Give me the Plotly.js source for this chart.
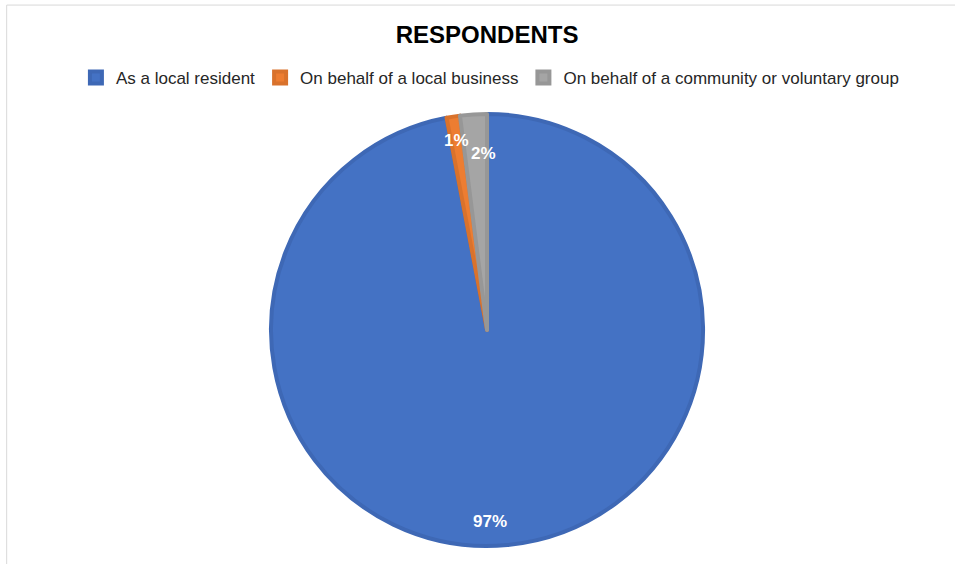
<!DOCTYPE html>
<html>
<head>
<meta charset="utf-8">
<script src="https://cdn.plot.ly/plotly-3.0.1.min.js"></script>
<style>
html,body{margin:0;padding:0;background:#fff;}
#chart{width:955px;height:564px;}
</style>
</head>
<body>
<div id="chart"></div>
<script>
const categories = ["As a local resident", "On behalf of a local business", "On behalf of a community or voluntary group"];
const values = [97, 1, 2];
const colors = ["#4472C4", "#ED7D31", "#A5A5A5"];
const edgeColors = ["#3E68B5", "#D9722C", "#979797"];

const FONT = "Liberation Sans, Arial, sans-serif";
const dom = {x: [0.283, 0.737], y: [0.032, 0.798]};
const W = 955, H = 564;

const trace = {
  type: "pie",
  labels: categories,
  values: values,
  sort: false,
  direction: "clockwise",
  rotation: 0,
  marker: {colors: colors, line: {color: edgeColors, width: 4}},
  textinfo: "none",
  hoverinfo: "label+percent",
  domain: dom
};

// data labels placed along each slice's mid-angle (computed from values)
const total = values.reduce((a, b) => a + b, 0);
const cx = (dom.x[0] + dom.x[1]) / 2 * W;
const cy = (dom.y[0] + dom.y[1]) / 2 * H;
const R = Math.min((dom.x[1] - dom.x[0]) * W, (dom.y[1] - dom.y[0]) * H) / 2;
const labelRadius = [0.89, 0.89, 0.82];
const labelShift = [-15, 0, 8];
let cum = 0;
const annotations = values.map((v, i) => {
  const mid = (cum + v / 2) / total * 2 * Math.PI;
  cum += v;
  const r = R * labelRadius[i];
  const px = cx + r * Math.sin(mid) + labelShift[i];
  const py = cy + r * Math.cos(mid);
  return {
    xref: "paper", yref: "paper", x: px / W, y: py / H,
    xanchor: "center", yanchor: "middle", showarrow: false,
    text: "<b>" + Math.round(v / total * 100) + "%</b>",
    font: {family: FONT, size: 17, color: "#ffffff"}
  };
});

const layout = {
  width: W,
  height: H,
  margin: {l: 0, r: 0, t: 0, b: 0},
  paper_bgcolor: "#ffffff",
  title: {
    text: "<b>RESPONDENTS</b>",
    font: {family: FONT, size: 24, color: "#000000"},
    x: 0.51, xanchor: "center", y: 0.938, yanchor: "middle"
  },
  showlegend: true,
  legend: {
    orientation: "h",
    x: 0.513, xanchor: "center",
    y: 0.862, yanchor: "middle",
    font: {family: FONT, size: 17, color: "#262626"},
    itemwidth: 30,
    traceorder: "normal"
  },
  annotations: annotations,
  shapes: [
    {type: "line", xref: "paper", yref: "paper", x0: 0.007, x1: 1, y0: 0.991, y1: 0.991, line: {color: "#d9d9d9", width: 1}},
    {type: "line", xref: "paper", yref: "paper", x0: 0.007, x1: 0.007, y0: 0, y1: 0.991, line: {color: "#d9d9d9", width: 1}}
  ]
};

Plotly.newPlot("chart", [trace], layout, {displayModeBar: false, staticPlot: true});
</script>
</body>
</html>
